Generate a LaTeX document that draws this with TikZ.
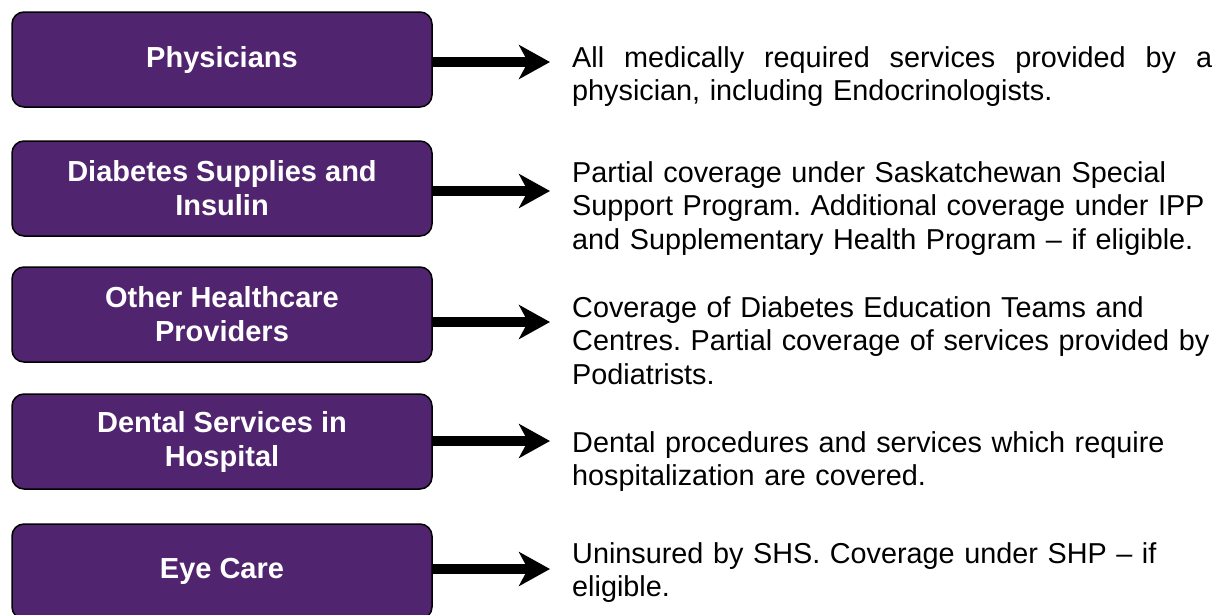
\documentclass[tikz,border=0pt]{standalone}
\usepackage{fontspec}
\setmainfont{Liberation Sans}
\usetikzlibrary{arrows.meta}
\definecolor{boxpurple}{RGB}{81,36,111}
\frenchspacing
\begin{document}
\begin{tikzpicture}[x=1pt,y=-1pt,
  catbox/.style={draw=black, line width=1.5pt, fill=boxpurple, rounded corners=12pt,
    minimum width=420pt, minimum height=95pt, inner sep=0pt, text=white,
    font=\fontsize{29}{34}\selectfont\bfseries, align=center},
  desc/.style={anchor=base west, text width=700pt, align=left, inner sep=0pt,
    font=\fontsize{28.8}{33.5}\selectfont},
  bigarrow/.style={line width=10pt, -{Stealth[length=31pt,width=34pt,inset=9pt]}}]
\useasboundingbox (0,0) rectangle (1226,614);

\node[catbox] (b1) at (222,59.5) {Physicians};
\node[catbox] (b2) at (222,188.5) {Diabetes Supplies and\\Insulin};
\node[catbox] (b3) at (222,314.5) {Other Healthcare\\Providers};
\node[catbox] (b4) at (222,441.5) {Dental Services in\\Hospital};
\node[catbox] (b5) at (222,571.5) {Eye Care};

\coordinate (t1) at (550,62);
\coordinate (t2) at (550,191);
\coordinate (t3) at (550,322);
\coordinate (t4) at (550,441);
\coordinate (t5) at (550,569);

\draw[bigarrow] (b1.east |- t1) -- (t1);
\draw[bigarrow] (b2.east |- t2) -- (t2);
\draw[bigarrow] (b3.east |- t3) -- (t3);
\draw[bigarrow] (b4.east |- t4) -- (t4);
\draw[bigarrow] (b5.east |- t5) -- (t5);

\node[desc] (d1) at (572,67) {\hbox to 640pt{All \hfill medically \hfill required \hfill services \hfill provided \hfill by \hfill a}\\physician, including Endocrinologists.};
\node[desc] (d2) at (572,182) {Partial coverage under Saskatchewan Special\\Support Program. Additional coverage under IPP\\and Supplementary Health Program -- if eligible.};
\node[desc] (d3) at (572,317) {Coverage of Diabetes Education Teams and\\Centres. Partial coverage of services provided by\\Podiatrists.};
\node[desc] (d4) at (572,452) {Dental procedures and services which require\\hospitalization are covered.};
\node[desc] (d5) at (572,563) {Uninsured by SHS. Coverage under SHP -- if\\eligible.};
\end{tikzpicture}
\end{document}
